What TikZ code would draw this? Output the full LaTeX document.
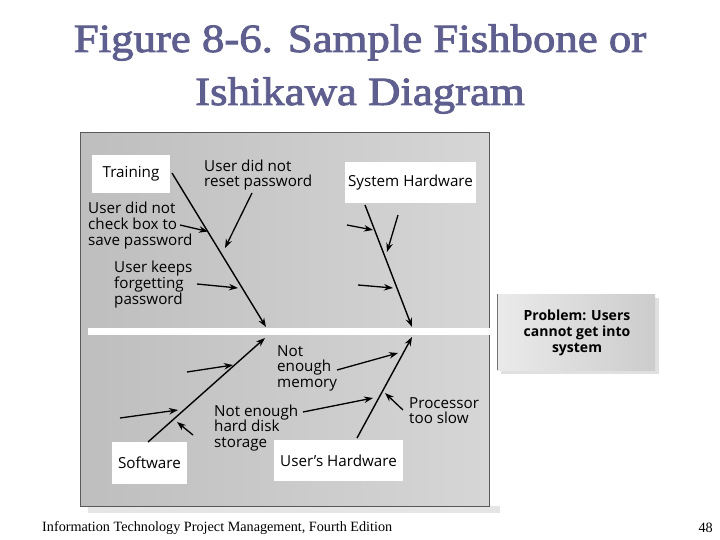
\documentclass[tikz,border=0pt]{standalone}
\usepackage{fontspec}
\setmainfont{Liberation Serif}
\newfontfamily\diagfont{Open Sans}
\newfontfamily\titlefont[FakeStretch=1.12,FakeBold=2.2]{Liberation Serif}
\usetikzlibrary{arrows.meta}
\definecolor{titleblue}{HTML}{5F5F8F}
\definecolor{panelL}{HTML}{BEBEBE}
\definecolor{panelR}{HTML}{D6D6D6}
\begin{document}
\begin{tikzpicture}[x=1pt,y=-1pt,
  bone/.style={line width=1.4pt,-{Stealth[length=9pt,width=6.5pt]}},
  cause/.style={line width=1.3pt,-{Stealth[length=9pt,width=6.5pt]}},
  catbox/.style={fill=white,inner sep=0,font=\diagfont\fontsize{15.2}{16}\selectfont},
  lbl/.style={font=\diagfont\fontsize{15.2}{15.6}\selectfont,align=left,inner sep=0,anchor=west},
  titletext/.style={font=\titlefont\fontsize{40}{48}\selectfont,text=titleblue,inner sep=0,anchor=base}]
\useasboundingbox (0,0) rectangle (720,540);
\fill[white] (0,0) rectangle (720,540);
% title
\node[titletext] (t1) at (360,52) {Figure 8-6. Sample Fishbone or};
\node[titletext] (t2) at (360,105) {Ishikawa Diagram};
% panel with shadow
\fill[black!10] (88,506) rectangle (500,513);
\shade[left color=panelL,right color=panelR] (80,133) rectangle (489,506);
\draw[black!65,line width=1pt] (80,133) rectangle (489,506);
% problem box
\fill[black!12] (501,298) rectangle (659,374);
\shade[left color=black!8,right color=black!20] (497,294) rectangle (655,370);
\draw[black!55,line width=0.8pt] (497,294) -- (497,370);
\node[font=\diagfont\bfseries\fontsize{14}{16}\selectfont,align=center,inner sep=0] (prob) at (577,333) {Problem: Users\\cannot get into\\system};
% spine
\fill[white] (88,328) rectangle (497,335);
\coordinate (spineA) at (88,331.5);
\coordinate (spineB) at (497,331.5);
% category boxes
\node[catbox,minimum width=78pt,minimum height=38pt] (train) at (131,174) {Training};
\node[catbox,minimum width=131pt,minimum height=41pt] (syshw) at (410.5,182.5) {System Hardware};
\node[catbox,minimum width=75pt,minimum height=42pt] (soft) at (149.5,463) {Software};
\node[catbox,minimum width=129pt,minimum height=41pt] (userhw) at (338.5,460.5) {User’s Hardware};
% bone coordinates
\coordinate (trainS) at (172,173);
\coordinate (trainE) at (266,327);
\coordinate (syshwS) at (365,205);
\coordinate (syshwE) at (412,327);
\coordinate (softS) at (148,442);
\coordinate (softE) at (265,338);
\coordinate (userhwS) at (357,438);
\coordinate (userhwE) at (412,337);
\draw[bone] (trainS) -- (trainE);
\draw[bone] (syshwS) -- (syshwE);
\draw[bone] (softS) -- (softE);
\draw[bone] (userhwS) -- (userhwE);
% cause labels
\node[lbl] (reset) at (204,175) {User did not\\reset password};
\node[lbl] (check) at (88,225.5) {User did not\\check box to\\save password};
\node[lbl] (keeps) at (114,284.5) {User keeps\\forgetting\\password};
\node[lbl] (memory) at (277,368) {Not\\enough\\memory};
\node[lbl] (disk) at (214,428) {Not enough\\hard disk\\storage};
\node[lbl] (proc) at (409,410.5) {Processor\\too slow};
% cause arrows
\coordinate (resetS) at (252,193); \coordinate (resetE) at (225,248);
\draw[cause] (resetS) -- (resetE);
\coordinate (checkS) at (180,225); \coordinate (checkE) at (208,231.5);
\draw[cause] (checkS) -- (checkE);
\coordinate (keepsS) at (197,284); \coordinate (keepsE) at (238,288);
\draw[cause] (keepsS) -- (keepsE);
\coordinate (sh1S) at (347,225); \coordinate (sh1E) at (373,230);
\draw[cause] (sh1S) -- (sh1E);
\coordinate (sh2S) at (398,215); \coordinate (sh2E) at (387,252);
\draw[cause] (sh2S) -- (sh2E);
\coordinate (sh3S) at (358,285); \coordinate (sh3E) at (393,288);
\draw[cause] (sh3S) -- (sh3E);
\coordinate (sw1S) at (187,372); \coordinate (sw1E) at (233,365);
\draw[cause] (sw1S) -- (sw1E);
\coordinate (sw2S) at (120,418); \coordinate (sw2E) at (178,410);
\draw[cause] (sw2S) -- (sw2E);
\coordinate (sw3S) at (193,435); \coordinate (sw3E) at (177,422);
\draw[cause] (sw3S) -- (sw3E);
\coordinate (memS) at (337,370); \coordinate (memE) at (398,353);
\draw[cause] (memS) -- (memE);
\coordinate (diskS) at (303,412); \coordinate (diskE) at (373,398);
\draw[cause] (diskS) -- (diskE);
\coordinate (procS) at (403,410); \coordinate (procE) at (385,393);
\draw[cause] (procS) -- (procE);
% footer
\node[font=\fontsize{14.2}{16}\selectfont,anchor=west,inner sep=0] (foot) at (42,528) {Information Technology Project Management, Fourth Edition};
\node[font=\fontsize{14.2}{16}\selectfont,anchor=east,inner sep=0] (page) at (713,528) {48};
\end{tikzpicture}
\end{document}
